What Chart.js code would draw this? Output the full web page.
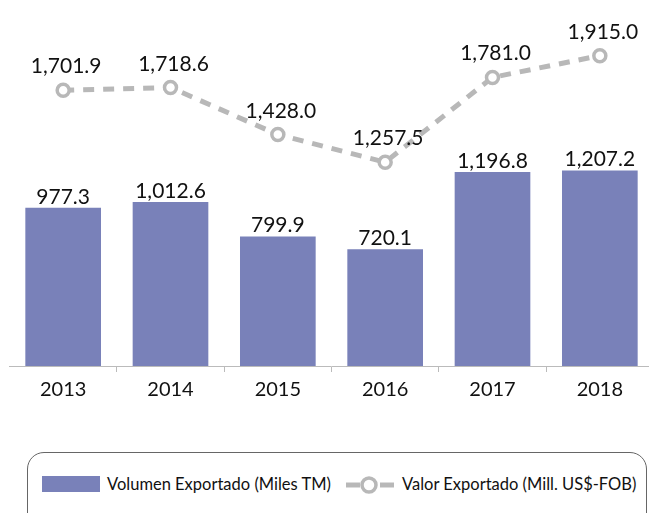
<!DOCTYPE html>
<html>
<head>
<meta charset="utf-8">
<script src="https://cdn.jsdelivr.net/npm/chart.js@4/dist/chart.umd.min.js"></script>
<style>
  html, body { margin: 0; padding: 0; background: #fff; overflow: hidden; }
  #wrap { position: relative; width: 649px; height: 513px; overflow: hidden; font-family: Lato, sans-serif; color: #111; }
  #chart { position: absolute; left: 0; top: 0; }
  #legend { position: absolute; left: 27px; top: 452px; width: 620px; height: 80px; border: 1.5px solid #666; border-radius: 17px; box-sizing: border-box; }
  .lg { position: absolute; font-size: 16.5px; line-height: 18px; white-space: nowrap; }
</style>
</head>
<body>
<div id="wrap">
  <canvas id="chart" width="663" height="408"></canvas>
  <div id="legend"></div>
  <div style="position:absolute;left:42px;top:476px;width:58px;height:16px;background:#7981b9"></div>
  <div class="lg" style="left:107px;top:475px">Volumen Exportado (Miles TM)</div>
  <svg style="position:absolute;left:344px;top:475px" width="52" height="20">
    <line x1="2" y1="10" x2="50" y2="10" stroke="#b8b8b8" stroke-width="5" stroke-dasharray="14 34"/>
    <line x1="36" y1="10" x2="50" y2="10" stroke="#b8b8b8" stroke-width="5"/>
    <circle cx="25" cy="10" r="7" fill="#fff" stroke="#b8b8b8" stroke-width="3.5"/>
  </svg>
  <div class="lg" style="left:402px;top:475px">Valor Exportado (Mill. US$-FOB)</div>
</div>
<script>
const years = ['2013', '2014', '2015', '2016', '2017', '2018'];
const volumen = [977.3, 1012.6, 799.9, 720.1, 1196.8, 1207.2];
const valor = [1701.9, 1718.6, 1428.0, 1257.5, 1781.0, 1915.0];

const fmt = v => v.toLocaleString('en-US', { minimumFractionDigits: 1, maximumFractionDigits: 1 });

// value labels above bars and points
const valueLabels = {
  id: 'valueLabels',
  afterDatasetsDraw(chart) {
    const ctx = chart.ctx;
    ctx.save();
    ctx.font = '21px Lato';
    ctx.fillStyle = '#111';
    ctx.textAlign = 'center';
    ctx.textBaseline = 'alphabetic';
    chart.getDatasetMeta(1).data.forEach((bar, i) => {
      ctx.fillText(fmt(volumen[i]), bar.x, bar.y - 4);
    });
    chart.getDatasetMeta(0).data.forEach((pt, i) => {
      ctx.fillText(fmt(valor[i]), pt.x + 3, pt.y - 17);
    });
    ctx.restore();
  }
};

new Chart(document.getElementById('chart').getContext('2d'), {
  data: {
    labels: years,
    datasets: [
      {
        type: 'line',
        label: 'Valor Exportado (Mill. US$-FOB)',
        data: valor,
        borderColor: '#b8b8b8',
        borderWidth: 5,
        borderDash: [11, 9],
        tension: 0,
        pointRadius: 6,
        pointBorderWidth: 3.5,
        pointBackgroundColor: '#fff',
        pointBorderColor: '#b8b8b8',
        order: 0
      },
      {
        type: 'bar',
        label: 'Volumen Exportado (Miles TM)',
        data: volumen,
        backgroundColor: '#7981b9',
        categoryPercentage: 1,
        barPercentage: 0.705,
        order: 1
      }
    ]
  },
  options: {
    responsive: false,
    animation: false,
    layout: { padding: { left: 8.5, right: 1.5, top: 5, bottom: 0 } },
    plugins: { legend: { display: false }, tooltip: { enabled: false } },
    scales: {
      x: {
        grid: {
          offset: true,
          drawOnChartArea: false,
          tickLength: 6,
          color: c => c.index === 0 ? 'rgba(0,0,0,0)' : '#bbb'
        },
        border: { color: '#bbb', width: 1 },
        ticks: { color: '#111', font: { family: 'Lato', size: 20 }, padding: 6 }
      },
      y: { display: false, min: 0, max: 2200 }
    }
  },
  plugins: [valueLabels]
});
</script>
</body>
</html>
